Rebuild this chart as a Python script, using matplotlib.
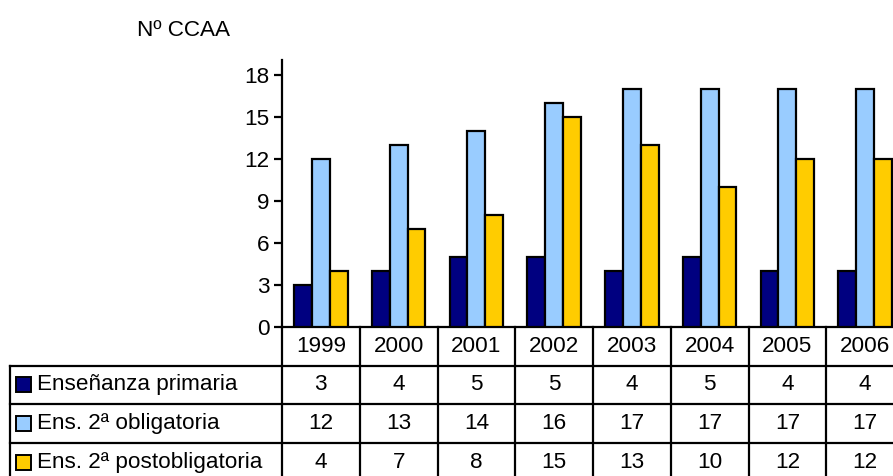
import numpy as np
import matplotlib
matplotlib.use("Agg")
import matplotlib.pyplot as plt
from matplotlib.patches import Rectangle

plt.rcParams['font.family'] = ['Liberation Sans', 'DejaVu Sans']

# data
years = ['1999', '2000', '2001', '2002', '2003', '2004', '2005', '2006']
series_names = ['Enseñanza primaria', 'Ens. 2ª obligatoria', 'Ens. 2ª postobligatoria']
primaria = [3, 4, 5, 5, 4, 5, 4, 4]
obligatoria = [12, 13, 14, 16, 17, 17, 17, 17]
postobligatoria = [4, 7, 8, 15, 13, 10, 12, 12]
y_ticks = [0, 3, 6, 9, 12, 15, 18]

colors = ['#000080', '#99CCFF', '#FFCC00']
values = [primaria, obligatoria, postobligatoria]

W, H = 893, 476
fig = plt.figure(figsize=(W / 100, H / 100), dpi=100)
fs = 16.2

# chart area in pixels (axes run off the right edge, as in the reference)
x0, x1 = 282, 904
y_axis, y_top = 326.7, 60
ax = fig.add_axes([x0 / W, (H - y_axis) / H, (x1 - x0) / W, (y_axis - y_top) / H])

n = len(years)
x = np.arange(n)
bw = 0.23
for i, (vals, c) in enumerate(zip(values, colors)):
    ax.bar(x + (i - 1) * bw, vals, bw, color=c, edgecolor='black', linewidth=1.6, zorder=3)

ax.set_xlim(-0.5, n - 0.5)
ax.set_ylim(0, (y_axis - y_top) / ((y_axis - 75) / 18))
ax.set_yticks(y_ticks)
ax.set_yticklabels([str(t) for t in y_ticks], fontsize=fs)
ax.set_xticks([])
for s in ['top', 'right']:
    ax.spines[s].set_visible(False)
for s in ['left', 'bottom']:
    ax.spines[s].set_linewidth(1.6)
ax.tick_params(axis='y', direction='out', length=6, width=1.6, pad=3)

fig.text(137 / W, 1 - 31 / H, 'Nº CCAA', fontsize=fs, va='center', ha='left')

# data table below the chart
col_w = (x1 - x0) / n
row_h = 38.8
tleft = 10
label_cols = (x0 - tleft) / col_w
tab = fig.add_axes([tleft / W, (H - y_axis - 4 * row_h) / H, (x1 - tleft) / W, 4 * row_h / H])
tab.set_xlim(-0.5 - label_cols, n - 0.5)
tab.set_ylim(4, 0)
tab.axis('off')

lw = 1.6
xl = -0.5 - label_cols
for k in range(n + 1):
    tab.plot([k - 0.5, k - 0.5], [0, 4], color='black', lw=lw, clip_on=False)
tab.plot([xl, xl], [1, 4], color='black', lw=lw, clip_on=False)
for r in [1, 2, 3, 4]:
    tab.plot([xl, n - 0.5], [r, r], color='black', lw=lw, clip_on=False)

for k, yr in enumerate(years):
    tab.text(k, 0.5, yr, ha='center', va='center', fontsize=fs)

sw = 15 / col_w
sh = 15 / row_h
for r, (name, vals, c) in enumerate(zip(series_names, values, colors)):
    yc = r + 1.5
    tab.add_patch(Rectangle((xl + 6 / col_w, yc - sh / 2), sw, sh, facecolor=c,
                            edgecolor='black', lw=1.4, clip_on=False))
    tab.text(xl + 27 / col_w, yc, name, ha='left', va='center', fontsize=fs)
    for k, v in enumerate(vals):
        tab.text(k, yc, str(v), ha='center', va='center', fontsize=fs)

fig.savefig('out.png', dpi=100)
